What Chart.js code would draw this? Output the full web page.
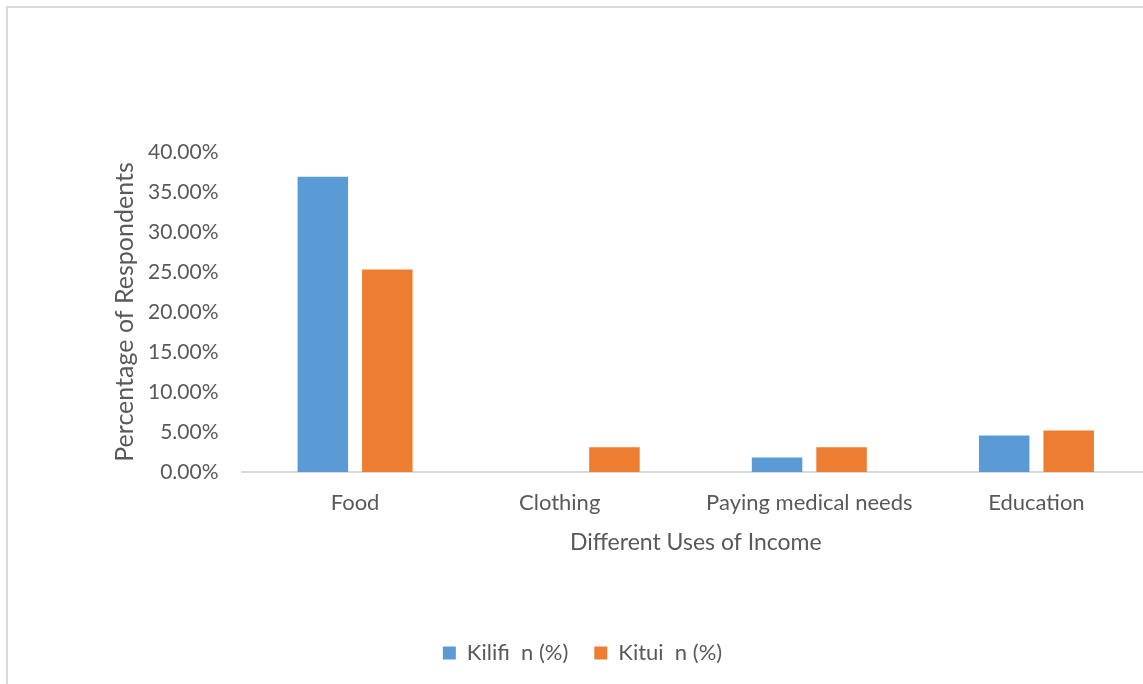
<!DOCTYPE html>
<html lang="en">

<head>
    <meta charset="UTF-8" />
    <title>Different Uses of Income</title>
    <script src="https://cdn.jsdelivr.net/npm/chart.js"></script>
    <style>
        html, body {
            margin: 0;
            padding: 0;
            background: #fff;
            overflow: hidden;
            width: 1143px;
            height: 684px;
        }

        .frame {
            position: absolute;
            left: 6px;
            top: 6px;
            width: 1160px;
            height: 700px;
            border-left: 2px solid #d9d9d9;
            border-top: 2px solid #d9d9d9;
        }

        #incomeChart {
            position: absolute;
            left: -1px;
            top: -1px;
        }
    </style>
</head>

<body>
    <div class="frame">
        <canvas id="incomeChart" width="1143" height="667"></canvas>
    </div>

    <script>
        // Values (percent of respondents)
        const categories = ['Food', 'Clothing        ', 'Paying medical needs', 'Education'];
        const kilifi = [36.9, 0, 1.8, 4.55];
        const kitui = [25.3, 3.1, 3.1, 5.2];
        const seriesNames = ['Kilifi  n (%)', 'Kitui  n (%)'];
        const yTicks = [0, 5, 10, 15, 20, 25, 30, 35, 40];

        const textColor = '#595959';
        const fontFamily = 'Lato, "Liberation Sans", sans-serif';

        const ctx = document.getElementById('incomeChart').getContext('2d');
        new Chart(ctx, {
            type: 'bar',
            data: {
                labels: categories,
                datasets: [
                    { label: seriesNames[0], data: kilifi, backgroundColor: '#5b9bd5' },
                    { label: seriesNames[1], data: kitui, backgroundColor: '#ed7d31' }
                ]
            },
            options: {
                responsive: false,
                animation: false,
                categoryPercentage: 0.568,
                barPercentage: 0.783,
                layout: {
                    // small left padding keeps the legend centred on the whole frame
                    padding: { top: 145, left: 8, right: 0, bottom: 0 }
                },
                scales: {
                    x: {
                        grid: { display: false, drawTicks: false },
                        border: { display: true, color: '#d9d9d9', width: 2 },
                        ticks: {
                            color: textColor,
                            padding: 18,
                            maxRotation: 0,
                            autoSkip: false,
                            font: { family: fontFamily, size: 22 }
                        },
                        title: {
                            display: true,
                            text: 'Different Uses of Income',
                            color: textColor,
                            padding: { top: 4, bottom: 60 },
                            font: { family: fontFamily, size: 23 }
                        },
                        afterFit: function (scale) { scale.height = 144; }
                    },
                    y: {
                        min: 0,
                        max: 40,
                        grid: { display: false, drawTicks: false },
                        border: { display: false },
                        afterBuildTicks: function (scale) {
                            scale.ticks = yTicks.map(v => ({ value: v }));
                        },
                        ticks: {
                            color: textColor,
                            padding: 23,
                            font: { family: fontFamily, size: 21 },
                            callback: v => v.toFixed(2) + '%'
                        },
                        title: {
                            display: true,
                            text: 'Percentage of Respondents',
                            color: textColor,
                            padding: { top: 95, bottom: 4 },
                            font: { family: fontFamily, size: 25 }
                        },
                        afterFit: function (scale) { scale.width = 226.5; }
                    }
                },
                plugins: {
                    legend: {
                        position: 'bottom',
                        labels: {
                            color: textColor,
                            boxWidth: 13,
                            boxHeight: 13,
                            padding: 26,
                            font: { family: fontFamily, size: 22 }
                        }
                    },
                    tooltip: { enabled: false }
                }
            }
        });
    </script>
</body>

</html>
